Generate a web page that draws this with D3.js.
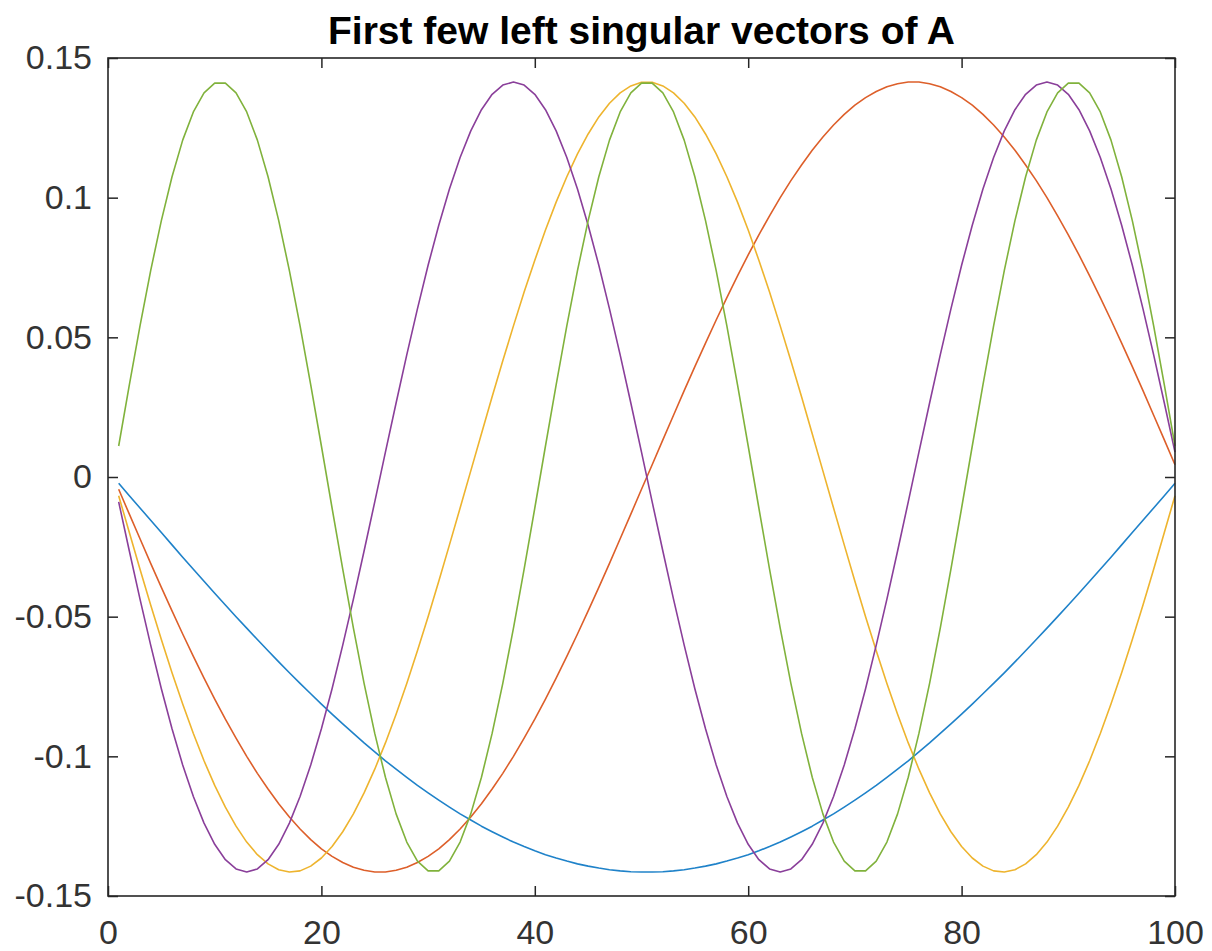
<!DOCTYPE html>
<html>
<head>
<meta charset="utf-8">
<script src="https://cdn.jsdelivr.net/npm/d3@7"></script>
<style>
  body { margin: 0; background: #ffffff; }
  #wrapper text { font-family: "Liberation Sans", Arial, sans-serif; }
</style>
</head>
<body>
<div id="wrapper"></div>
<script>
// sample index along the vector (1..100)
const sampleIndex = d3.range(1, 101)

// values, one array per curve
const vector1 = [-0.0022,-0.0067,-0.0111,-0.0155,-0.0199,-0.0243,-0.0287,-0.0330,-0.0373,-0.0416,
  -0.0458,-0.0500,-0.0541,-0.0582,-0.0622,-0.0662,-0.0701,-0.0739,-0.0776,-0.0813,
  -0.0849,-0.0884,-0.0918,-0.0952,-0.0984,-0.1016,-0.1046,-0.1075,-0.1104,-0.1131,
  -0.1157,-0.1182,-0.1206,-0.1228,-0.1250,-0.1270,-0.1289,-0.1307,-0.1323,-0.1338,
  -0.1352,-0.1364,-0.1375,-0.1385,-0.1393,-0.1400,-0.1406,-0.1410,-0.1413,-0.1414,
  -0.1414,-0.1413,-0.1410,-0.1406,-0.1400,-0.1393,-0.1385,-0.1375,-0.1364,-0.1352,
  -0.1338,-0.1323,-0.1307,-0.1289,-0.1270,-0.1250,-0.1228,-0.1206,-0.1182,-0.1157,
  -0.1131,-0.1104,-0.1075,-0.1046,-0.1016,-0.0984,-0.0952,-0.0918,-0.0884,-0.0849,
  -0.0813,-0.0776,-0.0739,-0.0701,-0.0662,-0.0622,-0.0582,-0.0541,-0.0500,-0.0458,
  -0.0416,-0.0373,-0.0330,-0.0287,-0.0243,-0.0199,-0.0155,-0.0111,-0.0067,-0.0022]

const vector2 = [-0.0044,-0.0133,-0.0221,-0.0309,-0.0395,-0.0479,-0.0562,-0.0642,-0.0720,-0.0795,
  -0.0867,-0.0935,-0.1000,-0.1061,-0.1117,-0.1170,-0.1217,-0.1260,-0.1298,-0.1331,
  -0.1358,-0.1380,-0.1397,-0.1408,-0.1414,
  -0.1414,-0.1408,-0.1397,-0.1380,-0.1358,-0.1331,-0.1298,-0.1260,-0.1217,-0.1170,
  -0.1117,-0.1061,-0.1000,-0.0935,-0.0867,-0.0795,-0.0720,-0.0642,-0.0562,-0.0479,
  -0.0395,-0.0309,-0.0221,-0.0133,-0.0044,
  0.0044,0.0133,0.0221,0.0309,0.0395,0.0479,0.0562,0.0642,0.0720,0.0795,
  0.0867,0.0935,0.1000,0.1061,0.1117,0.1170,0.1217,0.1260,0.1298,0.1331,
  0.1358,0.1380,0.1397,0.1408,0.1414,
  0.1414,0.1408,0.1397,0.1380,0.1358,0.1331,0.1298,0.1260,0.1217,0.1170,
  0.1117,0.1061,0.1000,0.0935,0.0867,0.0795,0.0720,0.0642,0.0562,0.0479,
  0.0395,0.0309,0.0221,0.0133,0.0044]

const vector3 = [-0.0067,-0.0199,-0.0330,-0.0458,-0.0582,-0.0701,-0.0813,-0.0918,-0.1016,-0.1104,
  -0.1182,-0.1250,-0.1307,-0.1352,-0.1385,-0.1406,-0.1414,-0.1410,-0.1393,-0.1364,
  -0.1323,-0.1270,-0.1206,-0.1131,-0.1046,-0.0952,-0.0849,-0.0739,-0.0622,-0.0500,
  -0.0373,-0.0243,-0.0111,
  0.0022,0.0155,0.0287,0.0416,0.0541,0.0662,0.0776,0.0884,0.0984,0.1075,
  0.1157,0.1228,0.1289,0.1338,0.1375,0.1400,0.1413,0.1413,0.1400,0.1375,
  0.1338,0.1289,0.1228,0.1157,0.1075,0.0984,0.0884,0.0776,0.0662,0.0541,
  0.0416,0.0287,0.0155,
  0.0022,
  -0.0111,-0.0243,-0.0373,-0.0500,-0.0622,-0.0739,-0.0849,-0.0952,-0.1046,-0.1131,
  -0.1206,-0.1270,-0.1323,-0.1364,-0.1393,-0.1410,-0.1414,-0.1406,-0.1385,-0.1352,
  -0.1307,-0.1250,-0.1182,-0.1104,-0.1016,-0.0918,-0.0813,-0.0701,-0.0582,-0.0458,
  -0.0330,-0.0199,-0.0067]

const vector4 = [-0.0089,-0.0265,-0.0437,-0.0602,-0.0758,-0.0901,-0.1031,-0.1144,-0.1239,-0.1315,
  -0.1370,-0.1403,-0.1414,-0.1403,-0.1370,-0.1315,-0.1239,-0.1144,-0.1031,-0.0901,
  -0.0758,-0.0602,-0.0437,-0.0265,-0.0089,
  0.0089,0.0265,0.0437,0.0602,0.0758,0.0901,0.1031,0.1144,0.1239,0.1315,
  0.1370,0.1403,0.1414,0.1403,0.1370,0.1315,0.1239,0.1144,0.1031,0.0901,
  0.0758,0.0602,0.0437,0.0265,0.0089,
  -0.0089,-0.0265,-0.0437,-0.0602,-0.0758,-0.0901,-0.1031,-0.1144,-0.1239,-0.1315,
  -0.1370,-0.1403,-0.1414,-0.1403,-0.1370,-0.1315,-0.1239,-0.1144,-0.1031,-0.0901,
  -0.0758,-0.0602,-0.0437,-0.0265,-0.0089,
  0.0089,0.0265,0.0437,0.0602,0.0758,0.0901,0.1031,0.1144,0.1239,0.1315,
  0.1370,0.1403,0.1414,0.1403,0.1370,0.1315,0.1239,0.1144,0.1031,0.0901,
  0.0758,0.0602,0.0437,0.0265,0.0089]

const vector5 = [0.0111,0.0330,0.0541,0.0739,0.0918,0.1075,0.1206,0.1307,0.1375,0.1410,
  0.1410,0.1375,0.1307,0.1206,0.1075,0.0918,0.0739,0.0541,0.0330,0.0111,
  -0.0111,-0.0330,-0.0541,-0.0739,-0.0918,-0.1075,-0.1206,-0.1307,-0.1375,-0.1410,
  -0.1410,-0.1375,-0.1307,-0.1206,-0.1075,-0.0918,-0.0739,-0.0541,-0.0330,-0.0111,
  0.0111,0.0330,0.0541,0.0739,0.0918,0.1075,0.1206,0.1307,0.1375,0.1410,
  0.1410,0.1375,0.1307,0.1206,0.1075,0.0918,0.0739,0.0541,0.0330,0.0111,
  -0.0111,-0.0330,-0.0541,-0.0739,-0.0918,-0.1075,-0.1206,-0.1307,-0.1375,-0.1410,
  -0.1410,-0.1375,-0.1307,-0.1206,-0.1075,-0.0918,-0.0739,-0.0541,-0.0330,-0.0111,
  0.0111,0.0330,0.0541,0.0739,0.0918,0.1075,0.1206,0.1307,0.1375,0.1410,
  0.1410,0.1375,0.1307,0.1206,0.1075,0.0918,0.0739,0.0541,0.0330,0.0111]

// tick values and their labels
const xTicks = [0, 20, 40, 60, 80, 100]
const yTicks = [-0.15, -0.1, -0.05, 0, 0.05, 0.1, 0.15]
const yTickLabels = ["-0.15", "-0.1", "-0.05", "0", "0.05", "0.1", "0.15"]

const titleText = "First few left singular vectors of A"
const lineColors = ["#1f82c9", "#dd5f2a", "#eeb42e", "#8a3f9a", "#80b23c"]

function drawChart() {
  const series = [vector1, vector2, vector3, vector4, vector5]

  // outer size and the plot box inside it
  let dims = {
    width: 1212,
    height: 951,
    margin: { top: 58, right: 37, bottom: 55, left: 108 },
  }
  dims.boundWidth = dims.width - dims.margin.left - dims.margin.right
  dims.boundHeight = dims.height - dims.margin.top - dims.margin.bottom

  const wrapper = d3.select("#wrapper")
    .append("svg")
      .attr("width", dims.width)
      .attr("height", dims.height)

  wrapper.append("rect")
    .attr("width", dims.width)
    .attr("height", dims.height)
    .attr("fill", "#ffffff")

  const bound = wrapper.append("g")
    .attr("transform", `translate(${dims.margin.left},${dims.margin.top})`)

  const xScale = d3.scaleLinear()
    .domain([0, 100])
    .range([0, dims.boundWidth])

  const yScale = d3.scaleLinear()
    .domain([-0.15, 0.15])
    .range([dims.boundHeight, 0])

  // the curves, first one at the bottom
  const lineGen = d3.line()
    .x((d, i) => xScale(sampleIndex[i]))
    .y(d => yScale(d))

  bound.append("g")
    .selectAll("path")
    .data(series)
    .join("path")
      .attr("d", d => lineGen(d))
      .attr("fill", "none")
      .attr("stroke", (d, i) => lineColors[i])
      .attr("stroke-width", 1.6)
      .attr("stroke-linejoin", "round")

  // axes: ticks point inward on all four sides
  const axisColor = "#262626"
  const tickLen = 10

  const xAxisBottom = bound.append("g")
    .attr("transform", `translate(0,${dims.boundHeight})`)
    .call(d3.axisBottom(xScale).tickValues(xTicks).tickFormat(d3.format("d"))
      .tickSizeInner(-tickLen).tickSizeOuter(0).tickPadding(26))
  const xAxisTop = bound.append("g")
    .call(d3.axisTop(xScale).tickValues(xTicks).tickFormat("")
      .tickSizeInner(-tickLen).tickSizeOuter(0))
  const yAxisLeft = bound.append("g")
    .call(d3.axisLeft(yScale).tickValues(yTicks).tickFormat((d, i) => yTickLabels[i])
      .tickSizeInner(-tickLen).tickSizeOuter(0).tickPadding(16))
  const yAxisRight = bound.append("g")
    .attr("transform", `translate(${dims.boundWidth},0)`)
    .call(d3.axisRight(yScale).tickValues(yTicks).tickFormat("")
      .tickSizeInner(-tickLen).tickSizeOuter(0))

  const allAxes = [xAxisBottom, xAxisTop, yAxisLeft, yAxisRight]
  allAxes.forEach(ax => {
    ax.select(".domain").remove()
    ax.selectAll("line").attr("stroke", axisColor).attr("stroke-width", 1.5)
    ax.selectAll("text")
      .attr("fill", "#333333")
      .style("font-size", "34px")
  })

  // the bottom labels sit with their baseline just above the page edge
  xAxisBottom.selectAll("text").attr("dy", "0.66em")

  // box around the plot
  bound.append("rect")
    .attr("width", dims.boundWidth)
    .attr("height", dims.boundHeight)
    .attr("fill", "none")
    .attr("stroke", axisColor)
    .attr("stroke-width", 1.6)

  // title
  wrapper.append("text")
    .attr("x", dims.margin.left + dims.boundWidth / 2)
    .attr("y", 44)
    .attr("text-anchor", "middle")
    .attr("fill", "#000000")
    .style("font-size", "39px")
    .style("font-weight", "bold")
    .text(titleText)
}

drawChart()
</script>
</body>
</html>
